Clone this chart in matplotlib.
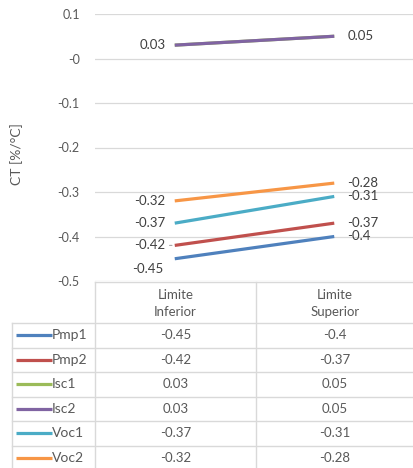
import numpy as np
import matplotlib.pyplot as plt

plt.rcParams['font.family'] = ['Lato', 'DejaVu Sans']

categories = ['Limite\nInferior', 'Limite\nSuperior']
series = ['Pmp1', 'Pmp2', 'Isc1', 'Isc2', 'Voc1', 'Voc2']
pmp1 = [-0.45, -0.4]
pmp2 = [-0.42, -0.37]
isc1 = [0.03, 0.05]
isc2 = [0.03, 0.05]
voc1 = [-0.37, -0.31]
voc2 = [-0.32, -0.28]
values = [pmp1, pmp2, isc1, isc2, voc1, voc2]
colors = ['#4F81BD', '#C0504D', '#9BBB59', '#8064A2', '#4BACC6', '#F79646']

W, H = 414, 468
grid_c = '#D9D9D9'
txt_c = '#595959'
lbl_c = '#404040'

fig = plt.figure(figsize=(W / 100, H / 100), dpi=100)

# plot area (pixel layout: x 95..414, y 14..281)
ax = fig.add_axes([95 / W, 1 - 281 / H, 1 - 95 / W, (281 - 14) / H])
x = np.arange(len(categories))
for name, vals, c in zip(series, values, colors):
    ax.plot(x, vals, color=c, lw=2.3, solid_capstyle='butt', zorder=3)

ax.set_xlim(-0.5, 1.5)
ax.set_ylim(-0.5, 0.1)
yt = np.round(np.arange(-0.5, 0.11, 0.1), 1)
ax.set_yticks(yt)
ax.set_yticklabels([f'{v:g}' for v in yt])
ax.set_xticks([])
ax.tick_params(axis='y', length=0, pad=11, labelsize=9, labelcolor=txt_c)
ax.yaxis.grid(True, color=grid_c, lw=0.9)
ax.set_axisbelow(True)
for s in ax.spines.values():
    s.set_visible(False)

# data labels (Isc1 sits under Isc2, so only one set is shown)
for name, vals in zip(series, values):
    if name == 'Isc1':
        continue
    if name == 'Pmp1':
        ax.annotate(f'{vals[0]:g}', (0, vals[0]), xytext=(-27, -10),
                    textcoords='offset pixels', ha='center', va='center',
                    fontsize=9.5, color=lbl_c)
    else:
        ax.annotate(f'{vals[0]:g}', (0, vals[0]), xytext=(-9, 0),
                    textcoords='offset pixels', ha='right', va='center',
                    fontsize=9.5, color=lbl_c)
    ax.annotate(f'{vals[1]:g}', (1, vals[1]), xytext=(13, 0),
                textcoords='offset pixels', ha='left', va='center',
                fontsize=9.5, color=lbl_c)

# short leader line for the moved Pmp2 label
ax.annotate('', (0, pmp2[0]), xytext=(-8, 0), textcoords='offset pixels',
            arrowprops=dict(arrowstyle='-', color='#A6A6A6', lw=0.8))

fig.text(17 / W, 1 - 154 / H, 'CT [%/°C]', rotation=90, ha='center',
         va='center', fontsize=10, color=txt_c)

# data table under the plot, laid out in pixel coordinates
tb = fig.add_axes([0, 0, 1, 1])
tb.set_xlim(0, W)
tb.set_ylim(H, 0)
tb.axis('off')
tb.patch.set_alpha(0)

left, c0, c1, right = 12, 95, 256, W
top, head_bot, row_h = 282, 323, 24.5
col_mid = [(c0 + c1) / 2, (c1 + right) / 2]
n = len(series)
bottom = head_bot + n * row_h

tb.plot([c0, right], [top, top], color=grid_c, lw=1)
tb.plot([c0, c0], [top, bottom], color=grid_c, lw=1)
tb.plot([c1, c1], [top, bottom], color=grid_c, lw=1)
tb.plot([left, left], [head_bot, bottom], color=grid_c, lw=1)
for i in range(n + 1):
    yy = head_bot + i * row_h
    tb.plot([left, right], [yy, yy], color=grid_c, lw=1)

for cx, cat in zip(col_mid, categories):
    tb.text(cx, (top + head_bot) / 2 + 1, cat, ha='center', va='center',
            fontsize=9.5, color=txt_c, linespacing=1.55)

for i, (name, vals, c) in enumerate(zip(series, values, colors)):
    yc = head_bot + (i + 0.5) * row_h
    tb.plot([16, 52], [yc, yc], color=c, lw=2.3, solid_capstyle='butt')
    tb.text(52, yc, name, ha='left', va='center', fontsize=10, color=txt_c)
    for cx, v in zip(col_mid, vals):
        tb.text(cx, yc, f'{v:g}', ha='center', va='center', fontsize=9.5,
                color=txt_c)

fig.savefig('out.png', dpi=100)
